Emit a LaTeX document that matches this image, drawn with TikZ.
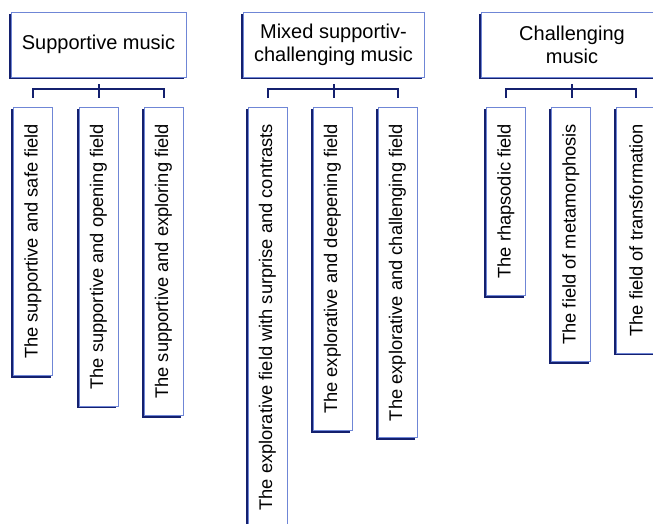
\documentclass[tikz,border=0pt]{standalone}
\usepackage{fontspec}
\setmainfont{Liberation Sans}
\usetikzlibrary{backgrounds,calc}
\definecolor{edgeblue}{HTML}{6F86D6}
\definecolor{navy}{HTML}{14206E}
\tikzset{
 head/.style={draw=edgeblue, line width=0.9pt, fill=white, align=center, inner sep=0pt,
   font=\fontsize{20}{23}\selectfont},
 leaf/.style={draw=edgeblue, line width=0.9pt, fill=white, rotate=90, anchor=east,
   minimum height=39pt, inner xsep=16.5pt, inner ysep=0pt, font=\fontsize{18.3}{21}\selectfont},
 bracket/.style={draw=navy, line width=2pt},
}
\begin{document}
\begin{tikzpicture}[x=1pt,y=1pt]
\useasboundingbox (0,0) rectangle (653,-524);
\clip (0,0) rectangle (653,-524);
% headings
\node[head, minimum width=175pt, minimum height=65pt] (h1) at (98.5,-44.5) {Supportive music};
\node[head, minimum width=181pt, minimum height=65pt] (h2) at (333.5,-44.5) {Mixed supportiv-\\challenging music};
\node[head, minimum width=182pt, minimum height=65pt] (h3) at (572,-44.5) {Challenging\\music};
% leaves group 1
\node[leaf] (a1) at (33,-107) {The supportive and safe field};
\node[leaf] (b1) at (98.5,-107) {The supportive and opening field};
\node[leaf] (c1) at (163.5,-107) {The supportive and exploring field};
% leaves group 2
\node[leaf] (a2) at (267.5,-107) {The explorative field with surprise and contrasts};
\node[leaf] (b2) at (332.5,-107) {The explorative and deepening field};
\node[leaf] (c2) at (397.5,-107) {The explorative and challenging field};
% leaves group 3
\node[leaf] (a3) at (506,-107) {The rhapsodic field};
\node[leaf] (b3) at (571,-107) {The field of metamorphosis};
\node[leaf] (c3) at (636,-107) {The field of transformation};
% shadows
\begin{scope}[on background layer]
\foreach \n in {h1,h2,h3,a1,b1,c1,a2,b2,c2,a3,b3,c3}
  \fill[navy] ([shift={(-2pt,-2pt)}]\n.south west) rectangle ([shift={(-2pt,-2pt)}]\n.north east);
\end{scope}
% brackets
\foreach \h/\a/\c in {h1/a1/c1,h2/a2/c2,h3/a3/c3}{
  \draw[bracket] ($(\a.east)+(0,9)$) -- ($(\a.east)+(0,18)$) -| ($(\c.east)+(0,9)$);
  \draw[bracket] ($(\h.south)+(0,-7)$) -- ($(\h.south)+(0,-21)$);
}
\end{tikzpicture}
\end{document}
